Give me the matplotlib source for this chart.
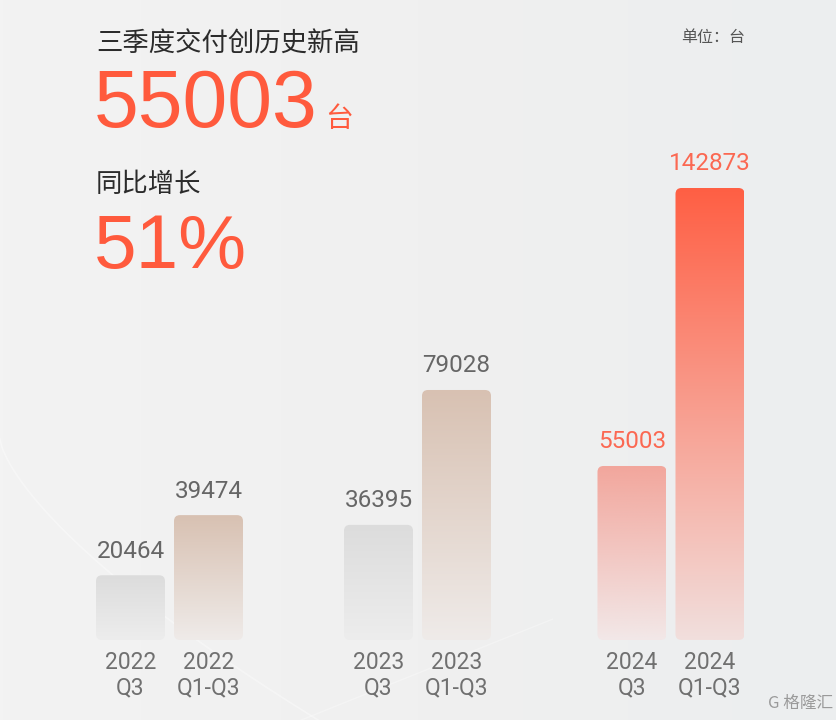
import matplotlib
matplotlib.use('Agg')
import matplotlib.pyplot as plt
import numpy as np
from matplotlib.colors import LinearSegmentedColormap
from matplotlib.patches import FancyBboxPatch

plt.rcParams['font.family'] = ['Noto Sans CJK SC', 'DejaVu Sans']
num_font = ['Liberation Sans', 'Noto Sans CJK SC']
lab_font = ['Roboto', 'Noto Sans CJK SC']

# data
years = ['2022', '2023', '2024']
periods = ['Q3', 'Q1-Q3']
q3_values = [20464, 36395, 55003]
ytd_values = [39474, 79028, 142873]

headline = '三季度交付创历史新高'
big_number = '55003'
unit = '台'
growth_label = '同比增长'
growth_value = '51%'
unit_note = '单位：台'

red = '#ff5a3d'
gray_text = '#666666'

fig = plt.figure(figsize=(8.37, 7.2), dpi=100)

# background
bg = fig.add_axes([0, 0, 1, 1])
bg_cmap = LinearSegmentedColormap.from_list('bg', ['#f3f3f3', '#f0f0f0', '#eceeef'])
bg.imshow(np.linspace(0, 1, 256).reshape(1, -1), cmap=bg_cmap, aspect='auto', extent=[0, 1, 0, 1])
t = np.linspace(0, 1, 200)
bg.plot(0.38 * t, 0.39 - 0.39 * t ** 0.7, color='white', lw=1.2, alpha=0.35)
bg.plot(0.36 + 0.3 * t, 0.0 + 0.14 * t, color='white', lw=1.0, alpha=0.3)
bg.set_xlim(0, 1)
bg.set_ylim(0, 1)
bg.axis('off')

# bars axes: x in pixels, y in vehicles
ax = fig.add_axes([0, 80 / 720, 1, 640 / 720])
ax.set_xlim(0, 837)
ymax = 142873 * 640 / 452
ax.set_ylim(0, ymax)
ax.axis('off')
px_per_unit = 452 / 142873

group_x = [169.5, 417.5, 671]
offset = 39
width = 69

colors_q3 = [('#dcdcdc', '#ededed'), ('#dcdcdc', '#ededed'), ('#f2a69c', '#f2e8e8')]
colors_ytd = [('#d8c1b2', '#efebe9'), ('#d8c1b2', '#efebe9'), ('#ff5f44', '#f1dfdd')]


def grad_bar(xc, h, top, bottom, label_color):
    x0 = xc - width / 2
    patch = FancyBboxPatch((x0, 0), width, h,
                           boxstyle='round,pad=0,rounding_size=6',
                           mutation_aspect=1 / px_per_unit,
                           facecolor='none', edgecolor='none')
    ax.add_patch(patch)
    cmap = LinearSegmentedColormap.from_list('g', [bottom, top])
    im = ax.imshow(np.linspace(0, 1, 256).reshape(-1, 1), cmap=cmap, aspect='auto',
                   origin='lower', extent=[x0, x0 + width, 0, h], zorder=2)
    im.set_clip_path(patch)
    ax.annotate(f'{h}', (xc, h), xytext=(0, 9), textcoords='offset points',
                ha='center', va='bottom', fontsize=17.5, color=label_color, family=lab_font)


for i, yr in enumerate(years):
    lc = '#fb6852' if yr == '2024' else gray_text
    for j, (vals, cols) in enumerate([(q3_values, colors_q3), (ytd_values, colors_ytd)]):
        xc = group_x[i] + (offset if j else -offset)
        grad_bar(xc, vals[i], cols[i][0], cols[i][1], lc)
        ax.annotate(f'{yr}\n{periods[j]}', (xc, 0), xytext=(0, -8), textcoords='offset points',
                    ha='center', va='top', fontsize=16.5, color='#707070', linespacing=1.1,
                    family=lab_font, annotation_clip=False)

# header texts
fig.text(96 / 837, 1 - 52 / 720, headline, fontsize=19, color='#2b2b2b', va='baseline')
fig.text(94 / 837, 1 - 127 / 720, big_number, fontsize=58, color=red, va='baseline', family=num_font)
fig.text(325 / 837, 1 - 127 / 720, unit, fontsize=20, color=red, va='baseline')
fig.text(96 / 837, 1 - 192 / 720, growth_label, fontsize=19, color='#2b2b2b', va='baseline')
fig.text(94 / 837, 1 - 268 / 720, growth_value, fontsize=55, color=red, va='baseline', family=num_font)
fig.text(745 / 837, 1 - 42 / 720, unit_note, fontsize=11.5, color='#555555', va='baseline', ha='right')

# watermark
fig.text(833 / 837, 1 - 708 / 720, 'G 格隆汇', fontsize=12, color='#9a9a9a', va='baseline', ha='right')

fig.savefig('out.png', dpi=100)
